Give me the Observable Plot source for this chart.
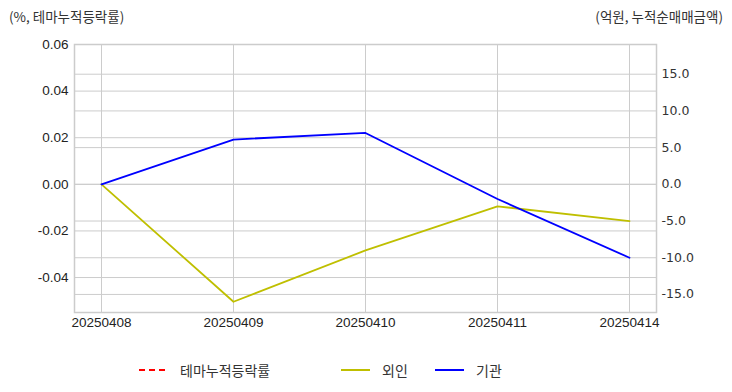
<!DOCTYPE html>
<html><head><meta charset="utf-8">
<script src="https://cdn.jsdelivr.net/npm/d3@7"></script>
<script src="https://cdn.jsdelivr.net/npm/@observablehq/plot@0.6"></script>
<style>
body{margin:0;background:#fff;}
#wrap{position:relative;width:732px;height:392px;font-family:"Liberation Sans","Noto Sans CJK KR",sans-serif;}
.ttl{position:absolute;top:6px;font-size:13.5px;color:#333;font-family:"Noto Sans CJK KR",sans-serif;line-height:20px;}
#legend{position:absolute;top:359px;left:0;width:732px;height:22px;font-family:"Noto Sans CJK KR",sans-serif;font-size:14px;color:#333;}
.li{position:absolute;top:0;display:flex;align-items:center;height:22px;}
.li svg{margin-right:12px;}
</style></head>
<body><div id="wrap">
<div class="ttl" style="left:9px">(%, 테마누적등락률)</div>
<div class="ttl" style="right:9px">(억원, 누적순매매금액)</div>
<div id="chart"></div>
<div id="legend"></div>
</div>
<script>
const dates = ["20250408","20250409","20250410","20250411","20250414"];
const themeReturn = [null,null,null,null,null]; // 테마누적등락률 (not drawn in reference)
const foreign = [0, -16.0, -9.0, -3.0, -5.0];      // 외인 (억원)
const institution = [0, 6.1, 7.0, -2.0, -10.0];    // 기관 (억원)
const leftTicks = [-0.04,-0.02,0,0.02,0.04,0.06];
const rightTicks = [-15,-10,-5,0,5,10,15];
const k = 0.00315; // right axis (억원) -> left axis (%)

const rows = [];
dates.forEach((d,i)=>{
  if (themeReturn[i]!=null) rows.push({date:d, v:themeReturn[i], s:"테마누적등락률"});
  rows.push({date:d, v:foreign[i]*k, s:"외인"});
  rows.push({date:d, v:institution[i]*k, s:"기관"});
});
const colors = {"테마누적등락률":"#ff0000","외인":"#bfbf00","기관":"#0000ff"};

const chart = Plot.plot({
  width:732, height:340,
  marginTop:44, marginBottom:28, marginLeft:74, marginRight:76,
  style:{fontFamily:"Liberation Sans, sans-serif", fontSize:"13px", color:"#222", background:"transparent"},
  x:{type:"point", domain:dates, padding:0.2},
  y:{domain:[-0.055,0.06]},
  marks:[
    Plot.ruleY(leftTicks,{stroke:"#cccccc",strokeWidth:1}),
    Plot.ruleY(rightTicks.map(v=>v*k),{stroke:"#cccccc",strokeWidth:1}),
    Plot.ruleX(dates,{stroke:"#cccccc",strokeWidth:1}),
    Plot.frame({stroke:"#cccccc",strokeWidth:1.5}),
    Plot.axisY(leftTicks,{anchor:"left",tickSize:0,tickPadding:6,tickFormat:d=>d.toFixed(2).replace("-0.00","0.00"),label:null,fontSize:13.5}),
    Plot.axisY(rightTicks.map(v=>v*k),{anchor:"right",tickSize:0,tickPadding:5,tickFormat:d=>(Math.round(d/k*10)/10).toFixed(1),label:null,fontSize:12.5,fontFamily:"DejaVu Sans, sans-serif",fill:"#333"}),
    Plot.axisX(dates,{tickSize:0,tickPadding:5,label:null,fontSize:13.5}),
    Plot.line(rows.filter(r=>r.s==="테마누적등락률"),{x:"date",y:"v",stroke:colors["테마누적등락률"],strokeWidth:1.6,strokeDasharray:"6,4"}),
    Plot.line(rows.filter(r=>r.s==="외인"),{x:"date",y:"v",stroke:colors["외인"],strokeWidth:1.8}),
    Plot.line(rows.filter(r=>r.s==="기관"),{x:"date",y:"v",stroke:colors["기관"],strokeWidth:1.8})
  ]
});
document.getElementById("chart").appendChild(chart);

const legendItems = [
  {s:"테마누적등락률", x:139, dash:"6,4"},
  {s:"외인", x:341, dash:null},
  {s:"기관", x:435, dash:null}
];
const lg = document.getElementById("legend");
legendItems.forEach(it=>{
  const div = document.createElement("div");
  div.className="li"; div.style.left=it.x+"px";
  div.innerHTML = `<svg width="29" height="4"><line x1="0" y1="2" x2="29" y2="2" stroke="${colors[it.s]}" stroke-width="2" ${it.dash?`stroke-dasharray="${it.dash}"`:""}/></svg><span>${it.s}</span>`;
  lg.appendChild(div);
});
</script>
</body></html>
